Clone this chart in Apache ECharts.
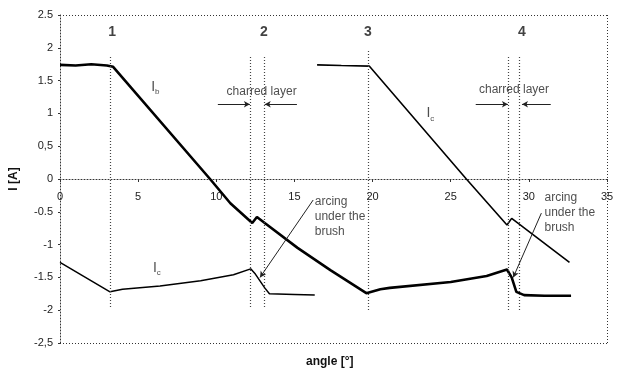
<!DOCTYPE html>
<html lang="en">
<head>
<meta charset="UTF-8">
<title>I [A] vs angle</title>
<script src="https://cdn.jsdelivr.net/npm/echarts@6/dist/echarts.min.js"></script>
<style>
  html, body { margin: 0; padding: 0; background: #fff; }
  #chart { width: 622px; height: 374px; }
</style>
</head>
<body>
<div id="chart"></div>
<script type="text/javascript">
// tick labels as printed on the scan
var yTicks = {'-2.5': '-2,5', '-2': '-2', '-1.5': '-1.5', '-1': '-1', '-0.5': '-0.5', '0': '0',
              '0.5': '0,5', '1': '1', '1.5': '1.5', '2': '2', '2.5': '2.5'};

// I_b (thick trace) [angle, current]
var ibData = [[0, 1.74], [1, 1.73], [2, 1.75], [3, 1.73], [3.4, 1.71], [9.6, 0],
  [10.9, -0.37], [12.3, -0.67], [12.6, -0.58], [13.1, -0.67], [15.2, -1.05],
  [17.3, -1.39], [19.6, -1.74], [20.5, -1.68], [21.1, -1.66], [25, -1.57],
  [27.3, -1.48], [28.6, -1.38], [28.9, -1.5], [29.2, -1.72], [29.7, -1.77],
  [31, -1.78], [32.7, -1.78]];

// I_c, first pass (thin trace, lower)
var icLow = [[0, -1.27], [3.2, -1.72], [4, -1.68], [6.4, -1.63], [9, -1.55],
  [11.1, -1.46], [12.2, -1.37], [12.5, -1.45], [13.1, -1.66], [13.4, -1.75],
  [15, -1.76], [16.3, -1.77]];

// I_c, second pass (thin trace, upper)
var icHigh = [[16.45, 1.74], [18, 1.73], [19.8, 1.72], [26.0, 0], [28.6, -0.70],
  [28.9, -0.6], [32.6, -1.27]];

// vertical dotted markers [angle, top, bottom]
var markers = [[3.2, 1.86, -1.97], [12.2, 1.86, -1.97], [13.1, 1.86, -1.97],
  [19.7, 1.95, -2.0], [28.7, 1.86, -2.0], [29.4, 1.86, -2.0]];

// plot frame (dotted): top, bottom, right
var frameY = [2.5, -2.5];
var frameX = [35];

// arrows [from, to]
var arrows = [
  [[10.1, 1.14], [12.15, 1.14]], [[15.16, 1.14], [13.1, 1.14]],
  [[26.6, 1.14], [28.66, 1.14]], [[31.4, 1.14], [29.56, 1.14]],
  [[16.2, -0.32], [12.8, -1.5]], [[30.8, -0.52], [29.0, -1.5]]
];

// text labels [angle, current, text, align]
var texts = [
  [3.33, 2.24, '{n|1}', 'center'], [13.05, 2.24, '{n|2}', 'center'],
  [19.7, 2.24, '{n|3}', 'center'], [29.55, 2.24, '{n|4}', 'center'],
  [6.1, 1.4, '{i|I}{s|b}', 'center'], [23.7, 1.0, '{i|I}{s|c}', 'center'],
  [6.2, -1.36, '{i|I}{s|c}', 'center'],
  [12.9, 1.33, 'charred layer', 'center'], [29.05, 1.36, 'charred layer', 'center'],
  [16.3, -0.58, 'arcing\nunder the\nbrush', 'left'], [31.0, -0.52, 'arcing\nunder the\nbrush', 'left']
];

var dom = document.getElementById('chart');
var myChart = echarts.init(dom);

var dotted = { color: '#333', type: [1, 2], width: 1 };
var gridTop = 15, gridBottom = 31;
// x axis sits on I = 0, i.e. halfway up the plot
var zeroOffset = -(374 - gridTop - gridBottom) / 2;

var option = {
  animation: false,
  backgroundColor: '#fff',
  grid: { left: 60, right: 15, top: gridTop, bottom: gridBottom },
  graphic: [{
    type: 'text', left: 306, bottom: 6,
    style: { text: 'angle [°]', fontWeight: 'bold', fontSize: 12, fill: '#111', fontFamily: 'Liberation Sans' }
  }],
  xAxis: {
    type: 'value', min: 0, max: 35, interval: 5,
    position: 'bottom', offset: zeroOffset,
    axisLine: { onZero: false, lineStyle: dotted },
    axisTick: { show: true, length: 3, lineStyle: { color: '#333' } },
    axisLabel: { color: '#222', fontSize: 11, margin: 12, fontFamily: 'Liberation Sans' },
    splitLine: { show: false }
  },
  yAxis: {
    type: 'value', min: -2.5, max: 2.5, interval: 0.5,
    name: 'I [A]', nameLocation: 'middle', nameGap: 40,
    nameTextStyle: { fontWeight: 'bold', fontSize: 12, color: '#111', fontFamily: 'Liberation Sans' },
    axisLine: { show: true, onZero: false, lineStyle: dotted },
    axisTick: { show: true, length: 2, lineStyle: { color: '#333' } },
    axisLabel: {
      color: '#222', fontSize: 11, margin: 7, fontFamily: 'Liberation Sans',
      formatter: function (v) { return yTicks[String(v)] || String(v); }
    },
    splitLine: { show: false }
  },
  series: [
    {
      name: 'Ib', type: 'line', data: ibData, showSymbol: false,
      lineStyle: { color: '#000', width: 2.6 },
      markLine: {
        silent: true, symbol: 'none', label: { show: false },
        lineStyle: { color: '#444', type: [1, 2], width: 1.2 },
        data: markers.map(function (m) {
          return [{ coord: [m[0], m[1]] }, { coord: [m[0], m[2]] }];
        })
      }
    },
    {
      name: 'Ic1', type: 'line', data: icLow, showSymbol: false,
      lineStyle: { color: '#000', width: 1.5 }
    },
    {
      name: 'Ic2', type: 'line', data: icHigh, showSymbol: false,
      lineStyle: { color: '#000', width: 1.6 }
    },
    {
      name: 'frame', type: 'line', data: [],
      markLine: {
        silent: true, symbol: 'none', label: { show: false },
        lineStyle: dotted,
        data: frameY.map(function (v) { return { yAxis: v }; })
          .concat(frameX.map(function (v) { return { xAxis: v }; }))
      }
    },
    {
      name: 'arrows', type: 'line', data: [],
      markLine: {
        silent: true, symbol: ['none', 'arrow'], symbolSize: [5, 6],
        label: { show: false },
        lineStyle: { color: '#222', type: 'solid', width: 1 },
        data: arrows.map(function (a) {
          return [{ coord: a[0] }, { coord: a[1] }];
        })
      }
    },
    {
      name: 'texts', type: 'scatter', symbolSize: 0, silent: true,
      data: texts.map(function (t) {
        return {
          value: [t[0], t[1]],
          label: {
            show: true, position: 'inside', align: t[3], verticalAlign: 'middle',
            formatter: t[2], color: '#222', fontSize: 12, lineHeight: 15,
            fontFamily: 'Liberation Sans',
            rich: {
              n: { fontSize: 14, fontWeight: 'bold', color: '#111', fontFamily: 'Liberation Sans' },
              i: { fontSize: 14, color: '#222', fontFamily: 'Liberation Sans' },
              s: { fontSize: 8, color: '#222', padding: [10, 0, 0, 0] }
            }
          }
        };
      })
    }
  ]
};

if (option && typeof option === "object") {
  myChart.setOption(option, true);
}
</script>
</body>
</html>
